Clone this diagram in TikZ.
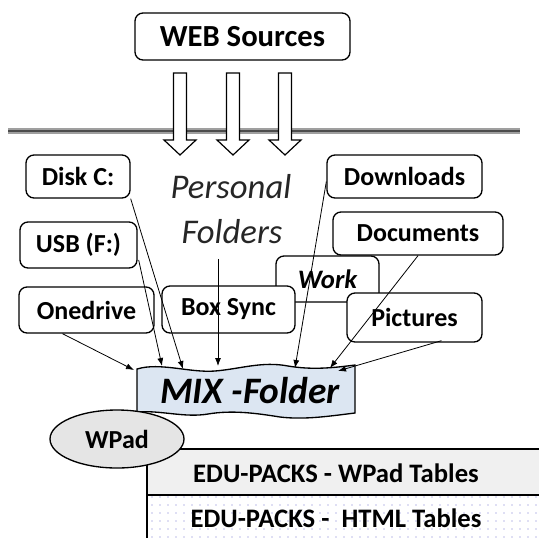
\documentclass[tikz,border=0pt]{standalone}
\usepackage{fontspec}
\setmainfont{Carlito}
\usetikzlibrary{calc,arrows.meta,patterns.meta}

\tikzset{
  box/.style={draw, line width=1pt, fill=white, rounded corners=6pt, inner sep=0pt,
    font=\bfseries\fontsize{19.5}{22}\selectfont},
  sz/.style n args={2}{minimum width=#1*0.75pt, minimum height=#2*0.75pt},
  feed/.style={-{Latex[length=6pt,width=4.5pt]}, line width=0.6pt}
}

\begin{document}
\begin{tikzpicture}[x=0.75pt,y=-0.75pt]
\useasboundingbox (0,0) rectangle (539,537);

% upper part
\node[box, sz={215}{47}, font=\bfseries\fontsize{23}{26}\selectfont] (web) at (242.5,36.5) {WEB Sources};
\draw[gray!75, line width=4pt] (8,131) -- (520,131);
\draw[black!70, line width=1.5pt] (8,131) -- (520,131);
\foreach \ax in {180,233,285}
  \draw[fill=white, line width=0.9pt] ({\ax-6.5},73) -- ({\ax+6.5},73) -- ({\ax+6.5},140)
    -- ({\ax+16},140) -- (\ax,155) -- ({\ax-16},140) -- ({\ax-6.5},140) -- cycle;

% personal folders
\node[black!85, font=\itshape\fontsize{26}{28}\selectfont] (personal) at (231,187) {Personal};
\node[black!85, font=\itshape\fontsize{26}{28}\selectfont] (folders) at (232,232) {Folders};

\node[box, sz={104}{43}] (diskc) at (78,176.5) {Disk C:};
\node[box, sz={155}{43}] (downloads) at (404.5,176.5) {Downloads};
\node[box, sz={117}{46}] (usb) at (78.5,245) {USB (F:)};
\node[box, sz={103}{46}, font=\bfseries\itshape\fontsize{20}{22}\selectfont] (work) at (327.5,279) {Work};
\node[box, sz={170}{43}] (documents) at (418,233.5) {Documents};
\node[box, sz={135}{46}] (onedrive) at (86.5,310) {Onedrive};
\node[box, sz={133}{47}] (boxsync) at (228.5,309.5) {Box Sync};
\node[box, sz={135}{49}] (pictures) at (414.5,317.5) {Pictures};

% mix folder
\draw[fill={rgb,255:red,220;green,230;blue,242}, line width=1pt]
  (137,369) .. controls (160,362) and (190,373) .. (215,371)
  .. controls (240,369) and (262,361) .. (288,366)
  .. controls (312,370) and (332,368) .. (355,365)
  -- (355,413)
  .. controls (330,416) and (305,420) .. (280,417)
  .. controls (255,413) and (232,410) .. (208,414)
  .. controls (185,418) and (160,410) .. (137,412) -- cycle;
\node[font=\bfseries\itshape\fontsize{28}{30}\selectfont] (mix) at (250,391) {MIX -Folder};
\coordinate (m1) at (134,370);
\coordinate (m2) at (162,366);
\coordinate (m3) at (183,369);
\coordinate (m4) at (218,366);
\coordinate (m5) at (295,368);
\coordinate (m6) at (330,368);
\coordinate (m7) at (338,371);

\draw[feed] ($(onedrive.south)+(-24,0)$) -- (m1);
\draw[feed] ($(usb.east)+(1,15)$) -- (m2);
\draw[feed] (diskc.south east) -- (m3);
\draw[feed] ($(folders.south -| m4)+(0,10)$) -- (m4);
\draw[feed] ($(downloads.west)+(0,5)$) -- (m5);
\draw[feed] (documents.south) -- (m6);
\draw[feed] ($(pictures.south)+(27,-2)$) -- (m7);

% edu-packs
\draw[fill=gray!12, line width=1pt] (147,449) rectangle (541,495);
\draw[line width=1pt, preaction={fill=white},
  pattern={Dots[distance=6pt,radius=0.45pt]}, pattern color=blue!50!gray!70] (147,495) rectangle (541,541);
\node[font=\bfseries\fontsize{20}{22}\selectfont] (wptab) at (336,473) {EDU-PACKS - WPad Tables};
\node[font=\bfseries\fontsize{20}{22}\selectfont] (htmltab) at (336,518) {EDU-PACKS - ~HTML Tables};
\draw[fill=gray!20, line width=1pt] (117,439) ellipse [x radius=67, y radius=29];
\node[font=\bfseries\fontsize{19.5}{22}\selectfont] (wpad) at (117,439) {WPad};

\end{tikzpicture}
\end{document}
